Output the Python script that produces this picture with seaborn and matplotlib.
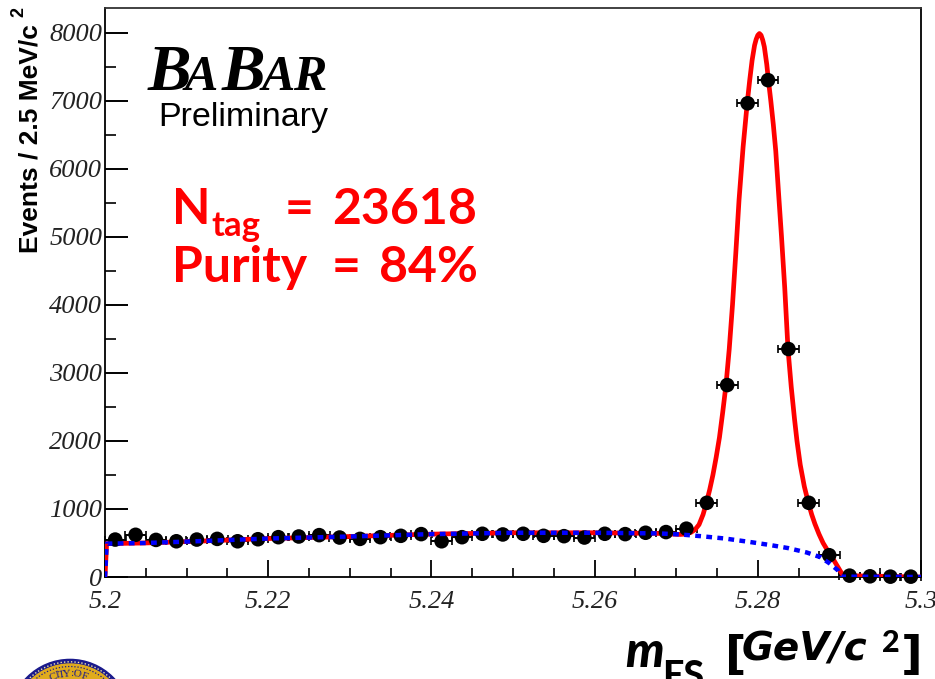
import numpy as np
import seaborn as sns
import matplotlib.pyplot as plt
from matplotlib.patches import Circle
from matplotlib.ticker import MultipleLocator

############# Values ###################################
########################################################
bin_centers = [5.20125, 5.20375, 5.20625, 5.20875, 5.21125, 5.21375, 5.21625, 5.21875,
               5.22125, 5.22375, 5.22625, 5.22875, 5.23125, 5.23375, 5.23625, 5.23875,
               5.24125, 5.24375, 5.24625, 5.24875, 5.25125, 5.25375, 5.25625, 5.25875,
               5.26125, 5.26375, 5.26625, 5.26875, 5.27125, 5.27375, 5.27625, 5.27875,
               5.28125, 5.28375, 5.28625, 5.28875, 5.29125, 5.29375, 5.29625, 5.29875]
events = [550, 620, 545, 525, 550, 560, 525, 555, 585, 595, 615, 580, 560, 585, 605, 630,
          525, 585, 635, 625, 635, 605, 600, 580, 635, 630, 650, 660, 710, 1090, 2820, 6960,
          7300, 3350, 1090, 320, 20, 10, 5, 5]
bin_halfwidth = [0.00128] * len(bin_centers)
event_err = [25] * len(bin_centers)

fit_x = [5.2, 5.2002, 5.205, 5.21, 5.22, 5.23, 5.24, 5.25, 5.26, 5.268, 5.2705, 5.2712, 5.2718,
         5.2723, 5.2728, 5.2733, 5.2737, 5.2741, 5.2745, 5.2749, 5.2753, 5.2757, 5.2761, 5.2765,
         5.2769, 5.2773, 5.2777, 5.2782, 5.2787, 5.279, 5.2793, 5.2796, 5.2798, 5.28, 5.2802,
         5.2804, 5.2806, 5.2808, 5.2811, 5.2813, 5.2816, 5.2819, 5.2822, 5.2826, 5.2829, 5.2833,
         5.2837, 5.2841, 5.2845, 5.2848, 5.2852, 5.2857, 5.2862, 5.2866, 5.287, 5.2875, 5.288,
         5.2885, 5.289, 5.2894, 5.2898, 5.2902, 5.2905, 5.3]
fit_y = [0, 490, 500, 520, 565, 595, 630, 650, 650, 640, 625, 632, 655, 695, 770, 920, 1090, 1280,
         1500, 1760, 2050, 2420, 2820, 3350, 4000, 4750, 5540, 6320, 6960, 7290, 7590, 7810, 7900,
         7960, 7985, 7960, 7890, 7790, 7530, 7300, 6990, 6650, 6260, 5540, 5010, 4250, 3350, 2790,
         2320, 2000, 1650, 1330, 1090, 920, 780, 630, 500, 400, 310, 230, 150, 70, 20, 0]
bkg_x = [5.2, 5.2002, 5.205, 5.21, 5.22, 5.23, 5.24, 5.25, 5.26, 5.268, 5.2705, 5.273, 5.276,
         5.279, 5.2815, 5.2837, 5.286, 5.2877, 5.2888, 5.2898, 5.2902, 5.3]
bkg_y = [0, 490, 500, 520, 565, 595, 630, 650, 650, 640, 625, 600, 565, 515, 470, 425, 360,
         290, 200, 100, 5, 0]

y_ticks = [0, 1000, 2000, 3000, 4000, 5000, 6000, 7000, 8000]
x_ticks = [5.2, 5.22, 5.24, 5.26, 5.28, 5.3]
x_tick_labels = ['5.2', '5.22', '5.24', '5.26', '5.28', '5.3']

############# Figure setup #############################
########################################################
sns.set_theme(style='ticks')
plt.rcParams['font.family'] = ['Liberation Serif', 'DejaVu Sans']
W, H = 935, 679
fig = plt.figure(figsize=(W / 100, H / 100), dpi=100)
ax = fig.add_axes([105 / W, 1 - 577 / H, 816 / W, 569 / H])

sns.lineplot(x=fit_x, y=fit_y, color='#ff0000', lw=3.4, ax=ax, zorder=3, sort=False, estimator=None)
sns.lineplot(x=bkg_x, y=bkg_y, color='#0000ff', lw=3.2, ax=ax, zorder=4, sort=False, estimator=None,
             linestyle=(0, (1.3, 1.2)))
ax.errorbar(bin_centers, events, xerr=bin_halfwidth, yerr=event_err, fmt='none', ecolor='black',
            elinewidth=1.4, capsize=2.6, capthick=1.2, zorder=2, clip_on=False)
sns.scatterplot(x=bin_centers, y=events, color='black', s=110, edgecolor='none', ax=ax, zorder=3.5, clip_on=False)

ax.set_xlim(5.2, 5.3)
ax.set_ylim(0, 8360)
ax.set_xticks(x_ticks)
ax.set_xticklabels(x_tick_labels, style='italic', fontsize=19, color='#222222')
ax.set_yticks(y_ticks)
ax.set_yticklabels([str(v) for v in y_ticks], style='italic', fontsize=19, color='#222222')
ax.xaxis.set_minor_locator(MultipleLocator(0.005))
ax.yaxis.set_minor_locator(MultipleLocator(500))
ax.tick_params(axis='x', which='major', direction='in', length=12.5, width=1.3, pad=10, color='black')
ax.tick_params(axis='x', which='minor', direction='in', length=6.5, width=1.2, color='black')
ax.tick_params(axis='y', which='major', direction='in', length=16.5, width=1.4, pad=2, color='black')
ax.tick_params(axis='y', which='minor', direction='in', length=8, width=1.2, color='black')
for side in ['left', 'right', 'bottom', 'top']:
    ax.spines[side].set_visible(True)
    ax.spines[side].set_linewidth(1.3)
    ax.spines[side].set_color('black')
ax.spines['top'].set_color('#333333')


def put(px, py, s, **kw):
    # place text by reference pixel, baseline anchored
    kw.setdefault('va', 'baseline')
    return fig.text(px / W, 1 - py / H, s, **kw)


############# Axis titles ##############################
########################################################
put(37, 253, 'Events / 2.5 MeV/c', rotation=90, family='Liberation Sans', weight='bold', fontsize=19,
    color='black', ha='left', rotation_mode='anchor')
put(23, 17, '2', rotation=90, family='Liberation Sans', weight='bold', fontsize=13, color='black', ha='left',
    rotation_mode='anchor')

############# BaBar logo ###############################
########################################################
logo = dict(family='Liberation Serif', style='italic', weight='bold', color='black')
put(148, 90, 'B', fontsize=47, **logo)
put(185, 90, 'A', fontsize=36, **logo)
put(222, 90, 'B', fontsize=47, **logo)
put(262, 90, 'A', fontsize=36, **logo)
put(293, 90, 'R', fontsize=36, **logo)
put(158, 126, 'Preliminary', family='Liberation Sans', fontsize=24.5, color='black')

############# Red annotation ###########################
########################################################
red = dict(family='Lato', weight='bold', color='#ff0000')
put(172, 224, 'N', fontsize=36, **red)
put(211, 236, 'tag', fontsize=25, **red)
put(285, 224, '=', fontsize=36, **red)
put(332, 224, '23618', fontsize=36, **red)
put(172, 282, 'Purity', fontsize=36, **red)
put(332, 282, '=', fontsize=36, **red)
put(379, 282, '84%', fontsize=36, **red)

############# x axis title #############################
########################################################
xt = dict(family='Lato', weight='black', color='black')
dj = dict(family='DejaVu Sans', weight='bold', color='black')
put(625, 667, 'm', fontsize=35, style='italic', **xt)
put(662, 688, 'ES', fontsize=27, **xt)
put(725, 669, '[', fontsize=34, **dj)
put(742, 661, 'GeV/c', fontsize=28, style='oblique', **dj)
put(882, 652, '2', fontsize=22, **xt)
put(901, 669, ']', fontsize=34, **dj)

############# University seal, cut by the page edge ####
########################################################
seal_px, seal_py = 70, 720
for r, col in [(60.6, '#1a1a8c'), (56, '#e0ab1c')]:
    fig.patches.append(Circle((seal_px, H - seal_py), r, transform=None, color=col, zorder=5))
fig.patches.append(Circle((seal_px, H - seal_py), 58.2, transform=None, fill=False, edgecolor='#f3e6a8',
                          lw=1.0, linestyle=(0, (1, 1.5)), zorder=5.5))
fig.patches.append(Circle((seal_px, H - seal_py), 53.5, transform=None, fill=False, edgecolor='#1a1a8c',
                          lw=0.9, linestyle=(0, (1, 1.5)), zorder=5.5))
for letter, deg in zip('CITY:OF', [-21, -15, -10, -4, 2, 9, 18]):
    a = np.radians(deg)
    put(seal_px + 46 * np.sin(a), seal_py - 46 * np.cos(a), letter, family='Liberation Serif', fontsize=8,
        color='#1a1a8c', ha='center', va='center', rotation=-deg, zorder=6)

fig.savefig('out.png', dpi=100)
